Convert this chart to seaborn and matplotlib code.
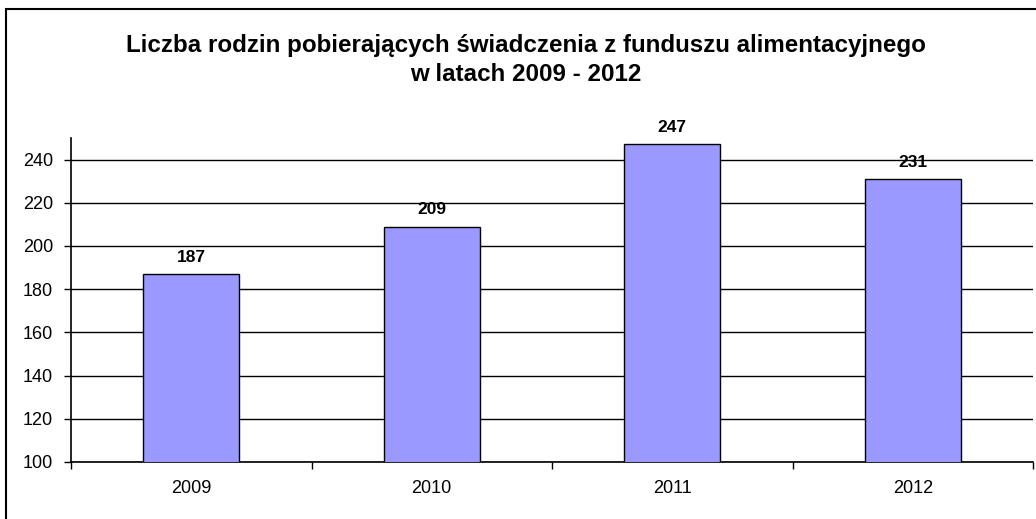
import matplotlib
matplotlib.use("Agg")
import pandas as pd
import seaborn as sns
from matplotlib import pyplot as plt
from matplotlib.patches import Rectangle
from matplotlib.ticker import FixedLocator

years = ["2009", "2010", "2011", "2012"]
families = [187, 209, 247, 231]
y_ticks = [100, 120, 140, 160, 180, 200, 220, 240]

title = "Liczba rodzin pobierających świadczenia z funduszu alimentacyjnego\nw latach 2009 - 2012"


def plot_families(df):
    sns.set_style("white")
    plt.rcParams["font.family"] = ["Liberation Sans", "DejaVu Sans"]
    plt.rcParams["text.color"] = "black"
    plt.rcParams["xtick.color"] = "black"
    plt.rcParams["ytick.color"] = "black"
    plt.rcParams["axes.labelcolor"] = "black"

    fig = plt.figure(figsize=(10.36, 5.19), dpi=100)
    ax = fig.add_axes([71 / 1036, 1 - 462 / 519, (1033 - 71) / 1036, (462 - 138) / 519])

    sns.barplot(
        data=df,
        x="year",
        y="families",
        color="#9999ff",
        saturation=1,
        edgecolor="black",
        linewidth=1,
        width=0.4,
        ax=ax,
        zorder=3,
    )

    ax.set_ylim(100, 250)
    ax.set_xlim(-0.5, len(years) - 0.5)
    ax.set_yticks(y_ticks)
    ax.yaxis.grid(True, color="black", linewidth=1)
    ax.set_axisbelow(True)

    for i, v in enumerate(df["families"]):
        ax.text(i, v + 5.8, str(v), ha="center", va="baseline",
                fontsize=12.5, fontweight="bold", zorder=4)

    # ticks between categories
    ax.xaxis.set_minor_locator(FixedLocator([i + 0.5 for i in range(-1, len(years))]))
    ax.tick_params(axis="x", which="major", length=0, pad=13, labelsize=13)
    ax.tick_params(axis="x", which="minor", direction="out", length=5, width=1, color="black", bottom=True)
    ax.tick_params(axis="y", direction="out", length=5, width=1, color="black", left=True, labelsize=13, pad=8)

    for side in ["top", "right"]:
        ax.spines[side].set_visible(False)
    for side in ["left", "bottom"]:
        ax.spines[side].set_color("black")
        ax.spines[side].set_linewidth(1.2)

    ax.set_xlabel("")
    ax.set_ylabel("")

    fig.text(526 / 1036, 1 - 60 / 519, title, ha="center", va="center",
             fontsize=17.4, fontweight="bold", linespacing=1.38)

    # chart area border (right and bottom sides fall outside the picture)
    fig.patches.append(Rectangle((6 / 1036, -0.1), 1.2, 1 - 9 / 519 + 0.1,
                                 transform=fig.transFigure, fill=False,
                                 edgecolor="black", linewidth=1.5))
    return fig


def main():
    df = pd.DataFrame({"year": years, "families": families})
    fig = plot_families(df)
    fig.savefig("out.png", dpi=100)


if __name__ == "__main__":
    main()
